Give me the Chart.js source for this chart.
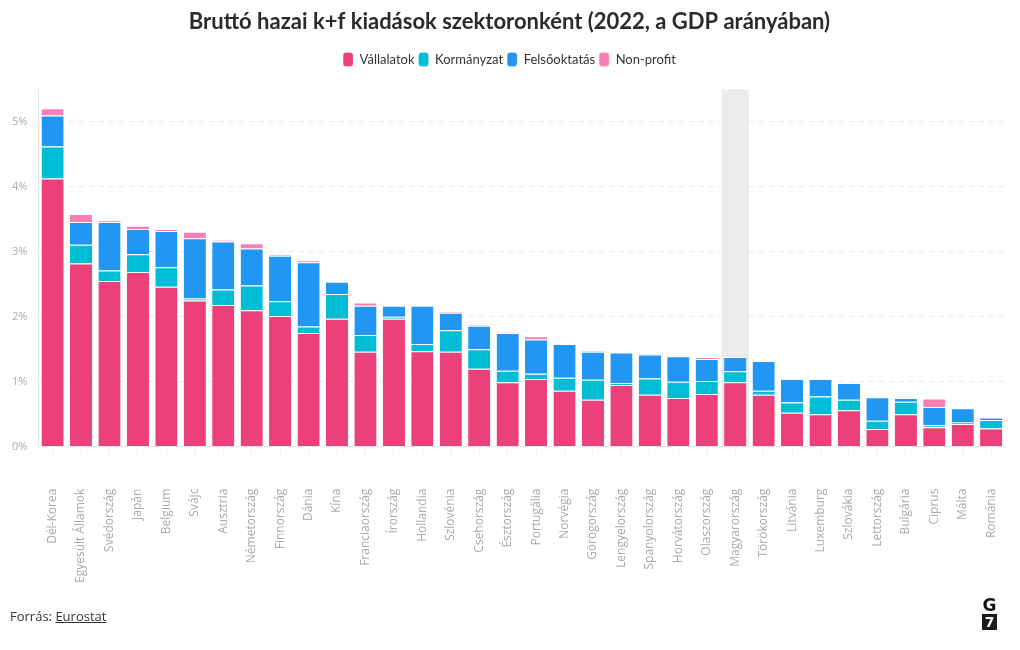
<!DOCTYPE html>
<html>
<head>
<meta charset="utf-8">
<script src="https://cdn.jsdelivr.net/npm/chart.js@4"></script>
<style>
  body { margin: 0; background: #fff; width: 1020px; height: 650px; position: relative; overflow: hidden; }
  #wrap { position: absolute; left: 0; top: 0; width: 1020px; height: 620px; }
  #source { position: absolute; left: 10px; top: 607px; font: 13px "Open Sans", sans-serif; color: #333; }
  #source a { color: #333; text-decoration: underline; }
  #logo { position: absolute; left: 982px; top: 598px; width: 15px; text-align: center; font: 900 17px "DejaVu Sans", sans-serif; color: #111; line-height: 15px; }
  #logo .seven { display: block; background: #1a1a1a; color: #fff; font-size: 14px; line-height: 16px; margin-top: 1px; }
</style>
</head>
<body>
<div id="wrap"><canvas id="myChart"></canvas></div>
<div id="source">Forrás: <a>Eurostat</a></div>
<div id="logo">G<span class="seven">7</span></div>
<script>
const countries = ['Dél-Korea', 'Egyesült Államok', 'Svédország', 'Japán', 'Belgium', 'Svájc', 'Ausztria',
  'Németország', 'Finnország', 'Dánia', 'Kína', 'Franciaország', 'Írország', 'Hollandia', 'Szlovénia',
  'Csehország', 'Észtország', 'Portugália', 'Norvégia', 'Görögország', 'Lengyelország', 'Spanyolország',
  'Horvátország', 'Olaszország', 'Magyarország', 'Törökország', 'Litvánia', 'Luxemburg', 'Szlovákia',
  'Lettország', 'Bulgária', 'Ciprus', 'Málta', 'Románia'];

const vallalatok   = [4.13, 2.82, 2.55, 2.69, 2.46, 2.25, 2.18, 2.10, 2.01, 1.75, 1.97, 1.46, 1.97, 1.47, 1.46, 1.20, 0.99, 1.04, 0.86, 0.72, 0.95, 0.80, 0.75, 0.81, 0.99, 0.80, 0.52, 0.50, 0.56, 0.27, 0.50, 0.30, 0.35, 0.28];
const kormanyzat   = [0.49, 0.29, 0.16, 0.27, 0.30, 0.03, 0.24, 0.38, 0.23, 0.10, 0.38, 0.26, 0.03, 0.11, 0.33, 0.30, 0.18, 0.08, 0.20, 0.31, 0.03, 0.25, 0.25, 0.20, 0.17, 0.06, 0.16, 0.27, 0.16, 0.13, 0.19, 0.03, 0.02, 0.13];
const felsooktatas = [0.48, 0.35, 0.75, 0.39, 0.56, 0.93, 0.74, 0.57, 0.70, 0.99, 0.19, 0.45, 0.17, 0.59, 0.27, 0.36, 0.58, 0.53, 0.52, 0.43, 0.47, 0.37, 0.39, 0.34, 0.22, 0.46, 0.36, 0.27, 0.26, 0.36, 0.06, 0.28, 0.22, 0.04];
const nonprofit    = [0.11, 0.12, 0.02, 0.05, 0.03, 0.10, 0.02, 0.08, 0.02, 0.03, 0.00, 0.05, 0.00, 0.00, 0.02, 0.02, 0.01, 0.05, 0.00, 0.02, 0.00, 0.01, 0.00, 0.03, 0.01, 0.00, 0.00, 0.00, 0.00, 0.00, 0.00, 0.13, 0.00, 0.00];

const highlighted = 'Magyarország';

// grey band behind the highlighted country
const bandPlugin = {
  id: 'band',
  beforeDatasetsDraw(chart) {
    const x = chart.scales.x, area = chart.chartArea, c = chart.ctx;
    const i = countries.indexOf(highlighted);
    const w = (x.getPixelForValue(1) - x.getPixelForValue(0)) * 0.96;
    c.save();
    c.fillStyle = '#ebebeb';
    c.fillRect(x.getPixelForValue(i) - w / 2, area.top, w, area.bottom - area.top);
    c.restore();
  }
};

const ctx = document.getElementById('myChart');
const seg = { borderColor: '#ffffff', borderWidth: { top: 1, left: 0, right: 0, bottom: 0 }, borderSkipped: false,
  categoryPercentage: 0.78, barPercentage: 1 };

new Chart(ctx, {
  type: 'bar',
  data: {
    labels: countries,
    datasets: [
      { label: 'Vállalatok', data: vallalatok, backgroundColor: '#ec407a', ...seg },
      { label: 'Kormányzat', data: kormanyzat, backgroundColor: '#00bcd4', ...seg },
      { label: 'Felsőoktatás', data: felsooktatas, backgroundColor: '#2196f3', ...seg },
      { label: 'Non-profit', data: nonprofit, backgroundColor: '#f77fb6', ...seg }
    ]
  },
  options: {
    responsive: true,
    maintainAspectRatio: false,
    animation: false,
    layout: { padding: { left: 1, right: 2, top: 7, bottom: 3 } },
    plugins: {
      title: {
        display: true,
        text: 'Bruttó hazai k+f kiadások szektoronként (2022, a GDP arányában)',
        color: '#2b2b2b',
        font: { family: 'Lato', size: 22, weight: 'bold' },
        padding: { top: 2, bottom: 13 }
      },
      legend: {
        labels: {
          color: '#333',
          font: { family: 'Lato', size: 13 },
          boxWidth: 10, boxHeight: 14, useBorderRadius: true, borderRadius: 3, padding: 4
        }
      },
      tooltip: { enabled: false }
    },
    scales: {
      x: {
        stacked: true,
        grid: { offset: false, drawOnChartArea: false, drawTicks: true, tickLength: 8, color: '#eeeeee' },
        border: { color: '#e6e6e6' },
        ticks: { color: '#aaaaaa', font: { family: 'Open Sans', size: 12 }, minRotation: 90, maxRotation: 90, padding: 34, autoSkip: false },
        // the big label padding would also eat space on the right
        afterFit(scale) { scale.paddingRight = 14.6; }
      },
      // empty top axis, only keeps a gap between legend and plot
      gap: {
        type: 'category',
        position: 'top',
        grid: { display: false },
        border: { display: false },
        ticks: { display: false },
        afterFit(scale) { scale.height = 13; }
      },
      y: {
        stacked: true,
        min: 0,
        max: 5.5,
        afterBuildTicks(axis) { axis.ticks = axis.ticks.filter(t => Number.isInteger(t.value)); },
        grid: { color: '#ececec', drawTicks: false },
        border: { color: '#e6e6e6', dash: [5, 5] },
        ticks: { stepSize: 1, color: '#aaaaaa', font: { family: 'Open Sans', size: 11 }, padding: 11, callback: v => v + '%' }
      }
    }
  },
  plugins: [bandPlugin]
});
</script>
</body>
</html>
